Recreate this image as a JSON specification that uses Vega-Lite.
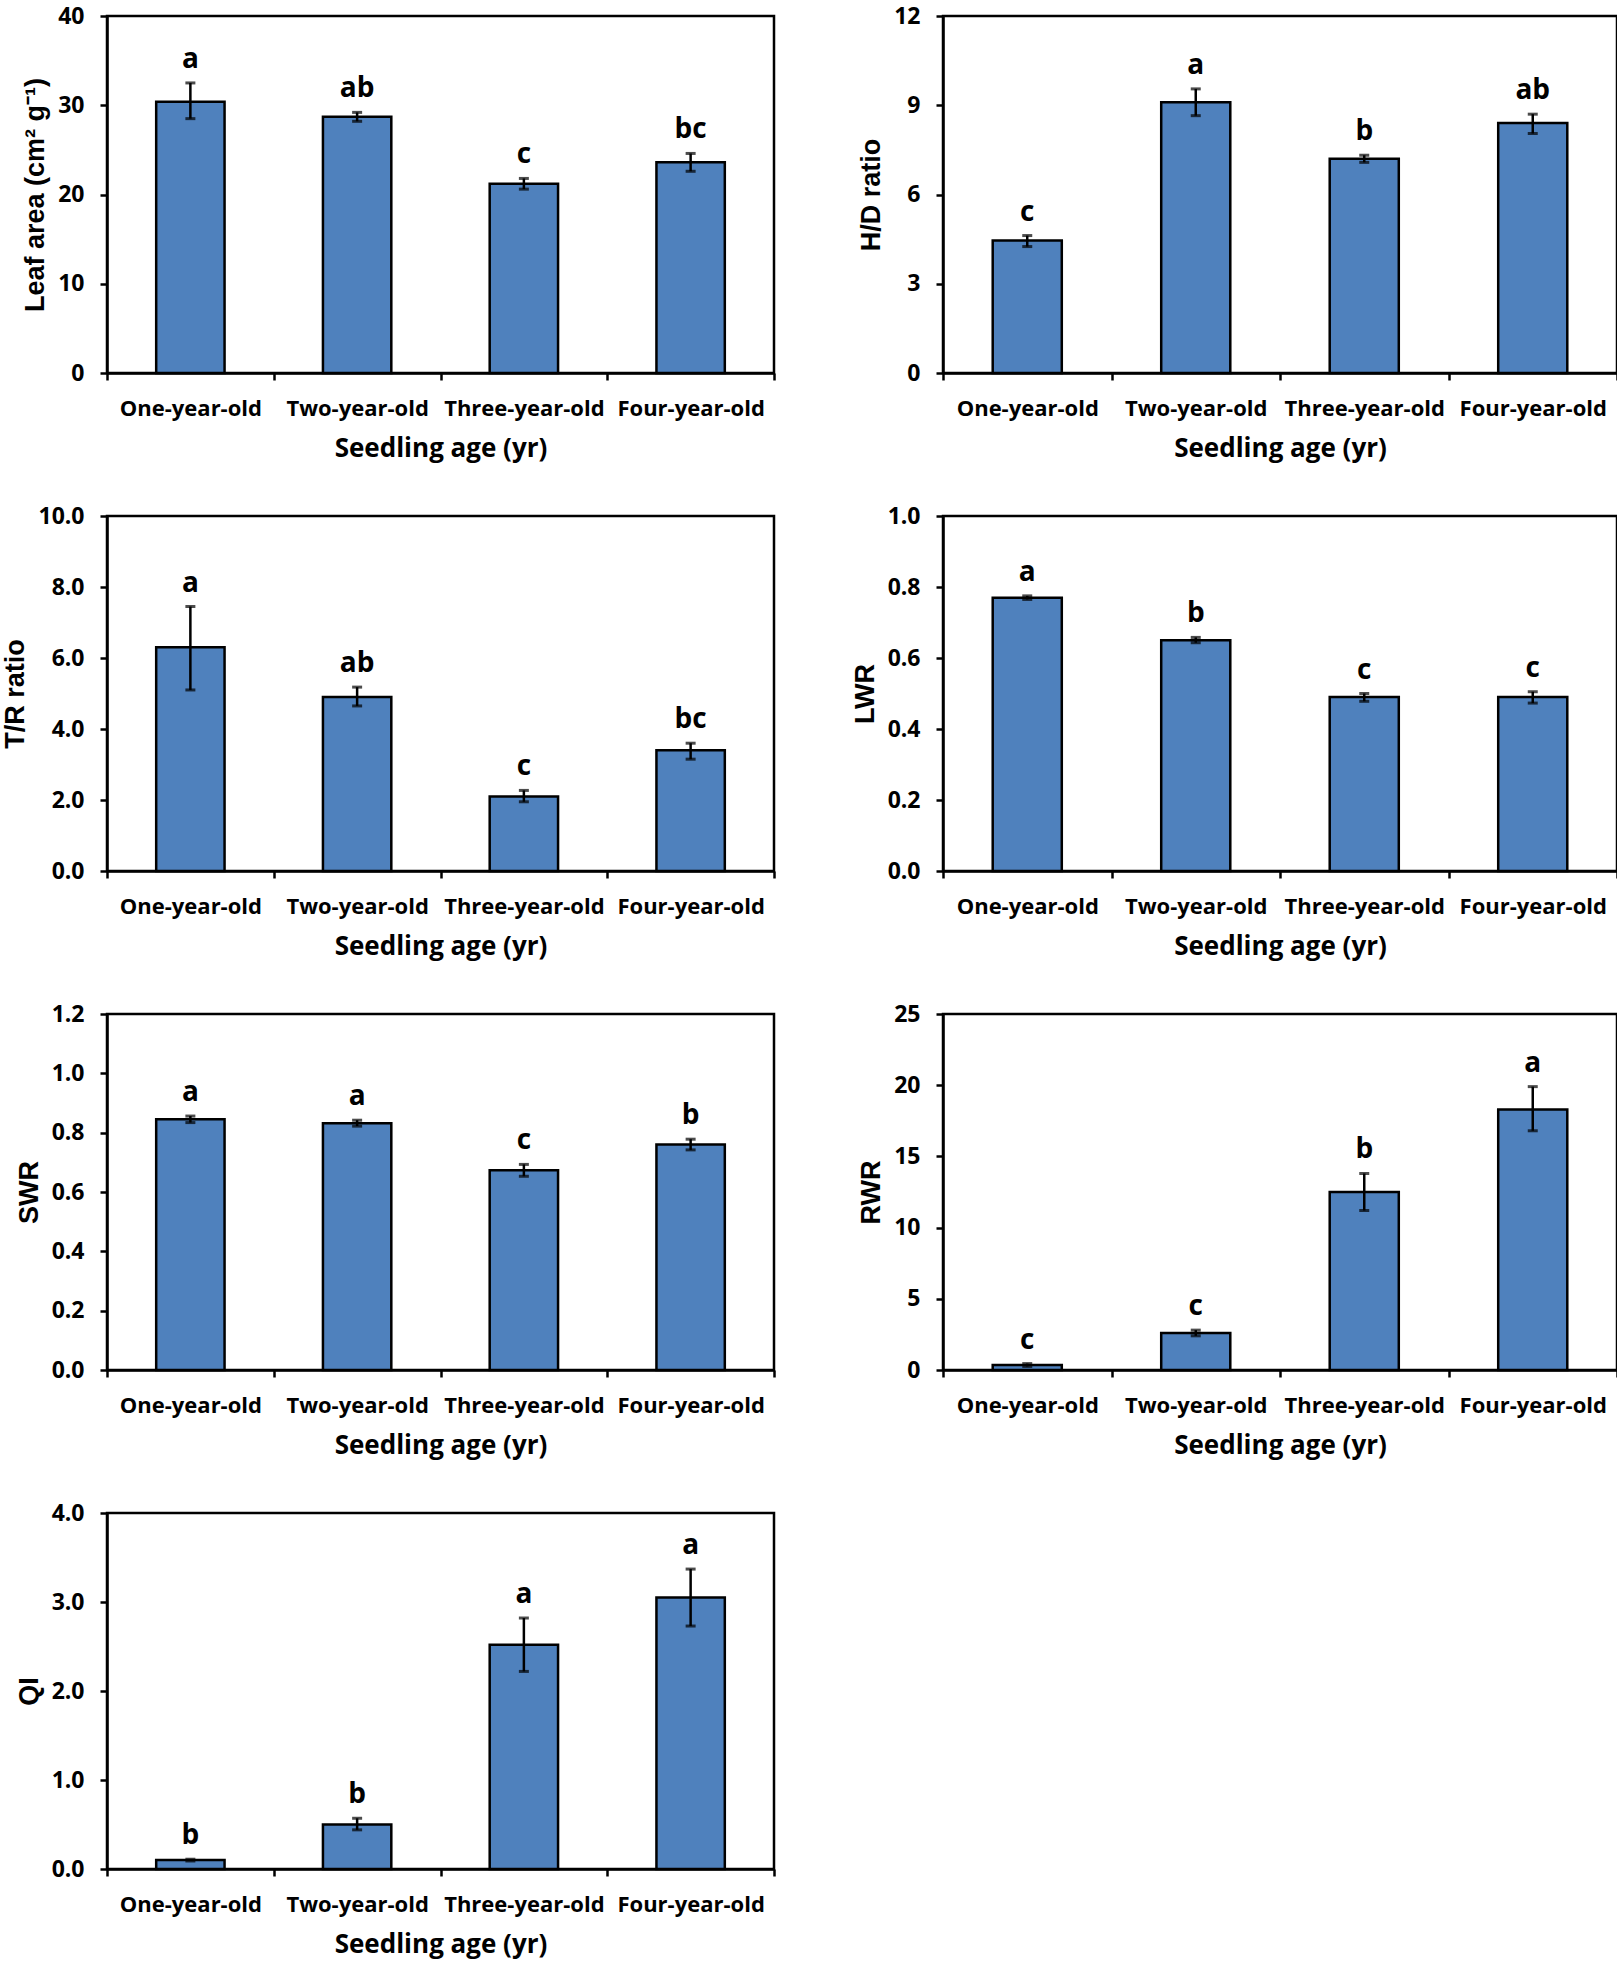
{
  "$schema": "https://vega.github.io/schema/vega-lite/v6.json",
  "padding": {"left": 0, "top": 3, "right": 2, "bottom": 0},
  "background": "white",
  "datasets": {
    "d": [
      {"panel": "LA", "age": "One-year-old", "mean": 30.4, "lo": 28.5, "hi": 32.5, "letter": "a"},
      {"panel": "LA", "age": "Two-year-old", "mean": 28.7, "lo": 28.2, "hi": 29.2, "letter": "ab"},
      {"panel": "LA", "age": "Three-year-old", "mean": 21.2, "lo": 20.6, "hi": 21.8, "letter": "c"},
      {"panel": "LA", "age": "Four-year-old", "mean": 23.6, "lo": 22.6, "hi": 24.6, "letter": "bc"},
      {"panel": "HD", "age": "One-year-old", "mean": 4.45, "lo": 4.25, "hi": 4.62, "letter": "c"},
      {"panel": "HD", "age": "Two-year-old", "mean": 9.1, "lo": 8.65, "hi": 9.55, "letter": "a"},
      {"panel": "HD", "age": "Three-year-old", "mean": 7.2, "lo": 7.08, "hi": 7.32, "letter": "b"},
      {"panel": "HD", "age": "Four-year-old", "mean": 8.4, "lo": 8.05, "hi": 8.7, "letter": "ab"},
      {"panel": "TR", "age": "One-year-old", "mean": 6.3, "lo": 5.1, "hi": 7.45, "letter": "a"},
      {"panel": "TR", "age": "Two-year-old", "mean": 4.9, "lo": 4.65, "hi": 5.18, "letter": "ab"},
      {"panel": "TR", "age": "Three-year-old", "mean": 2.1, "lo": 1.95, "hi": 2.27, "letter": "c"},
      {"panel": "TR", "age": "Four-year-old", "mean": 3.4, "lo": 3.15, "hi": 3.6, "letter": "bc"},
      {"panel": "LWR", "age": "One-year-old", "mean": 0.77, "lo": 0.765, "hi": 0.775, "letter": "a"},
      {"panel": "LWR", "age": "Two-year-old", "mean": 0.65, "lo": 0.643, "hi": 0.658, "letter": "b"},
      {"panel": "LWR", "age": "Three-year-old", "mean": 0.49, "lo": 0.478, "hi": 0.5, "letter": "c"},
      {"panel": "LWR", "age": "Four-year-old", "mean": 0.49, "lo": 0.473, "hi": 0.505, "letter": "c"},
      {"panel": "SWR", "age": "One-year-old", "mean": 0.845, "lo": 0.834, "hi": 0.856, "letter": "a"},
      {"panel": "SWR", "age": "Two-year-old", "mean": 0.832, "lo": 0.822, "hi": 0.842, "letter": "a"},
      {"panel": "SWR", "age": "Three-year-old", "mean": 0.673, "lo": 0.653, "hi": 0.693, "letter": "c"},
      {"panel": "SWR", "age": "Four-year-old", "mean": 0.76, "lo": 0.742, "hi": 0.778, "letter": "b"},
      {"panel": "RWR", "age": "One-year-old", "mean": 0.35, "lo": 0.25, "hi": 0.45, "letter": "c"},
      {"panel": "RWR", "age": "Two-year-old", "mean": 2.6, "lo": 2.4, "hi": 2.8, "letter": "c"},
      {"panel": "RWR", "age": "Three-year-old", "mean": 12.5, "lo": 11.2, "hi": 13.8, "letter": "b"},
      {"panel": "RWR", "age": "Four-year-old", "mean": 18.3, "lo": 16.8, "hi": 19.9, "letter": "a"},
      {"panel": "QI", "age": "One-year-old", "mean": 0.1, "lo": 0.09, "hi": 0.11, "letter": "b"},
      {"panel": "QI", "age": "Two-year-old", "mean": 0.5, "lo": 0.44, "hi": 0.57, "letter": "b"},
      {"panel": "QI", "age": "Three-year-old", "mean": 2.52, "lo": 2.22, "hi": 2.82, "letter": "a"},
      {"panel": "QI", "age": "Four-year-old", "mean": 3.05, "lo": 2.73, "hi": 3.37, "letter": "a"}
    ]
  },
  "data": {"name": "d"},
  "columns": 2,
  "spacing": {"column": 72, "row": 40},
  "concat": [
    {
      "width": 667, "height": 357,
      "transform": [{"filter": "datum.panel === 'LA'"}],
      "encoding": {"x": {"field": "age", "type": "nominal", "sort": ["One-year-old", "Two-year-old", "Three-year-old", "Four-year-old"], "scale": {"paddingInner": 0, "paddingOuter": 0}, "title": "Seedling age (yr)"}},
      "layer": [
        {"mark": {"type": "bar", "width": {"band": 0.41}, "fill": "#4F81BD", "stroke": "black", "strokeWidth": 2.5},
         "encoding": {"y": {"field": "mean", "type": "quantitative", "title": "Leaf area  (cm² g⁻¹)", "scale": {"domain": [0, 40], "nice": false}, "axis": {"values": [0, 10, 20, 30, 40], "format": "d"}}}},
        {"mark": {"type": "rule", "color": "black", "strokeWidth": 2.5}, "encoding": {"y": {"field": "lo", "type": "quantitative", "title": "Leaf area  (cm² g⁻¹)"}, "y2": {"field": "hi"}}},
        {"mark": {"type": "tick", "color": "black", "size": 10, "thickness": 3}, "encoding": {"y": {"field": "lo", "type": "quantitative", "title": "Leaf area  (cm² g⁻¹)"}}},
        {"mark": {"type": "tick", "color": "black", "size": 10, "thickness": 3}, "encoding": {"y": {"field": "hi", "type": "quantitative", "title": "Leaf area  (cm² g⁻¹)"}}},
        {"mark": {"type": "text", "font": "Open Sans", "fontWeight": "bold", "fontSize": 28, "baseline": "alphabetic", "dy": -15, "color": "black"}, "encoding": {"y": {"field": "hi", "type": "quantitative", "title": "Leaf area  (cm² g⁻¹)"}, "text": {"field": "letter"}}}
      ]
    },
    {
      "width": 674, "height": 357,
      "transform": [{"filter": "datum.panel === 'HD'"}],
      "encoding": {"x": {"field": "age", "type": "nominal", "sort": ["One-year-old", "Two-year-old", "Three-year-old", "Four-year-old"], "scale": {"paddingInner": 0, "paddingOuter": 0}, "title": "Seedling age (yr)"}},
      "layer": [
        {"mark": {"type": "bar", "width": {"band": 0.41}, "fill": "#4F81BD", "stroke": "black", "strokeWidth": 2.5},
         "encoding": {"y": {"field": "mean", "type": "quantitative", "title": "H/D ratio", "scale": {"domain": [0, 12], "nice": false}, "axis": {"values": [0, 3, 6, 9, 12], "format": "d"}}}},
        {"mark": {"type": "rule", "color": "black", "strokeWidth": 2.5}, "encoding": {"y": {"field": "lo", "type": "quantitative", "title": "H/D ratio"}, "y2": {"field": "hi"}}},
        {"mark": {"type": "tick", "color": "black", "size": 10, "thickness": 3}, "encoding": {"y": {"field": "lo", "type": "quantitative", "title": "H/D ratio"}}},
        {"mark": {"type": "tick", "color": "black", "size": 10, "thickness": 3}, "encoding": {"y": {"field": "hi", "type": "quantitative", "title": "H/D ratio"}}},
        {"mark": {"type": "text", "font": "Open Sans", "fontWeight": "bold", "fontSize": 28, "baseline": "alphabetic", "dy": -15, "color": "black"}, "encoding": {"y": {"field": "hi", "type": "quantitative", "title": "H/D ratio"}, "text": {"field": "letter"}}}
      ]
    },
    {
      "width": 667, "height": 355,
      "transform": [{"filter": "datum.panel === 'TR'"}],
      "encoding": {"x": {"field": "age", "type": "nominal", "sort": ["One-year-old", "Two-year-old", "Three-year-old", "Four-year-old"], "scale": {"paddingInner": 0, "paddingOuter": 0}, "title": "Seedling age (yr)"}},
      "layer": [
        {"mark": {"type": "bar", "width": {"band": 0.41}, "fill": "#4F81BD", "stroke": "black", "strokeWidth": 2.5},
         "encoding": {"y": {"field": "mean", "type": "quantitative", "title": "T/R ratio", "scale": {"domain": [0, 10], "nice": false}, "axis": {"values": [0, 2, 4, 6, 8, 10], "format": ".1f"}}}},
        {"mark": {"type": "rule", "color": "black", "strokeWidth": 2.5}, "encoding": {"y": {"field": "lo", "type": "quantitative", "title": "T/R ratio"}, "y2": {"field": "hi"}}},
        {"mark": {"type": "tick", "color": "black", "size": 10, "thickness": 3}, "encoding": {"y": {"field": "lo", "type": "quantitative", "title": "T/R ratio"}}},
        {"mark": {"type": "tick", "color": "black", "size": 10, "thickness": 3}, "encoding": {"y": {"field": "hi", "type": "quantitative", "title": "T/R ratio"}}},
        {"mark": {"type": "text", "font": "Open Sans", "fontWeight": "bold", "fontSize": 28, "baseline": "alphabetic", "dy": -15, "color": "black"}, "encoding": {"y": {"field": "hi", "type": "quantitative", "title": "T/R ratio"}, "text": {"field": "letter"}}}
      ]
    },
    {
      "width": 674, "height": 355,
      "transform": [{"filter": "datum.panel === 'LWR'"}],
      "encoding": {"x": {"field": "age", "type": "nominal", "sort": ["One-year-old", "Two-year-old", "Three-year-old", "Four-year-old"], "scale": {"paddingInner": 0, "paddingOuter": 0}, "title": "Seedling age (yr)"}},
      "layer": [
        {"mark": {"type": "bar", "width": {"band": 0.41}, "fill": "#4F81BD", "stroke": "black", "strokeWidth": 2.5},
         "encoding": {"y": {"field": "mean", "type": "quantitative", "title": "LWR", "scale": {"domain": [0, 1], "nice": false}, "axis": {"values": [0, 0.2, 0.4, 0.6, 0.8, 1.0], "format": ".1f"}}}},
        {"mark": {"type": "rule", "color": "black", "strokeWidth": 2.5}, "encoding": {"y": {"field": "lo", "type": "quantitative", "title": "LWR"}, "y2": {"field": "hi"}}},
        {"mark": {"type": "tick", "color": "black", "size": 10, "thickness": 3}, "encoding": {"y": {"field": "lo", "type": "quantitative", "title": "LWR"}}},
        {"mark": {"type": "tick", "color": "black", "size": 10, "thickness": 3}, "encoding": {"y": {"field": "hi", "type": "quantitative", "title": "LWR"}}},
        {"mark": {"type": "text", "font": "Open Sans", "fontWeight": "bold", "fontSize": 28, "baseline": "alphabetic", "dy": -15, "color": "black"}, "encoding": {"y": {"field": "hi", "type": "quantitative", "title": "LWR"}, "text": {"field": "letter"}}}
      ]
    },
    {
      "width": 667, "height": 356,
      "transform": [{"filter": "datum.panel === 'SWR'"}],
      "encoding": {"x": {"field": "age", "type": "nominal", "sort": ["One-year-old", "Two-year-old", "Three-year-old", "Four-year-old"], "scale": {"paddingInner": 0, "paddingOuter": 0}, "title": "Seedling age (yr)"}},
      "layer": [
        {"mark": {"type": "bar", "width": {"band": 0.41}, "fill": "#4F81BD", "stroke": "black", "strokeWidth": 2.5},
         "encoding": {"y": {"field": "mean", "type": "quantitative", "title": "SWR", "scale": {"domain": [0, 1.2], "nice": false}, "axis": {"values": [0, 0.2, 0.4, 0.6, 0.8, 1.0, 1.2], "format": ".1f"}}}},
        {"mark": {"type": "rule", "color": "black", "strokeWidth": 2.5}, "encoding": {"y": {"field": "lo", "type": "quantitative", "title": "SWR"}, "y2": {"field": "hi"}}},
        {"mark": {"type": "tick", "color": "black", "size": 10, "thickness": 3}, "encoding": {"y": {"field": "lo", "type": "quantitative", "title": "SWR"}}},
        {"mark": {"type": "tick", "color": "black", "size": 10, "thickness": 3}, "encoding": {"y": {"field": "hi", "type": "quantitative", "title": "SWR"}}},
        {"mark": {"type": "text", "font": "Open Sans", "fontWeight": "bold", "fontSize": 28, "baseline": "alphabetic", "dy": -15, "color": "black"}, "encoding": {"y": {"field": "hi", "type": "quantitative", "title": "SWR"}, "text": {"field": "letter"}}}
      ]
    },
    {
      "width": 674, "height": 356,
      "transform": [{"filter": "datum.panel === 'RWR'"}],
      "encoding": {"x": {"field": "age", "type": "nominal", "sort": ["One-year-old", "Two-year-old", "Three-year-old", "Four-year-old"], "scale": {"paddingInner": 0, "paddingOuter": 0}, "title": "Seedling age (yr)"}},
      "layer": [
        {"mark": {"type": "bar", "width": {"band": 0.41}, "fill": "#4F81BD", "stroke": "black", "strokeWidth": 2.5},
         "encoding": {"y": {"field": "mean", "type": "quantitative", "title": "RWR", "scale": {"domain": [0, 25], "nice": false}, "axis": {"values": [0, 5, 10, 15, 20, 25], "format": "d"}}}},
        {"mark": {"type": "rule", "color": "black", "strokeWidth": 2.5}, "encoding": {"y": {"field": "lo", "type": "quantitative", "title": "RWR"}, "y2": {"field": "hi"}}},
        {"mark": {"type": "tick", "color": "black", "size": 10, "thickness": 3}, "encoding": {"y": {"field": "lo", "type": "quantitative", "title": "RWR"}}},
        {"mark": {"type": "tick", "color": "black", "size": 10, "thickness": 3}, "encoding": {"y": {"field": "hi", "type": "quantitative", "title": "RWR"}}},
        {"mark": {"type": "text", "font": "Open Sans", "fontWeight": "bold", "fontSize": 28, "baseline": "alphabetic", "dy": -15, "color": "black"}, "encoding": {"y": {"field": "hi", "type": "quantitative", "title": "RWR"}, "text": {"field": "letter"}}}
      ]
    },
    {
      "width": 667, "height": 356,
      "transform": [{"filter": "datum.panel === 'QI'"}],
      "encoding": {"x": {"field": "age", "type": "nominal", "sort": ["One-year-old", "Two-year-old", "Three-year-old", "Four-year-old"], "scale": {"paddingInner": 0, "paddingOuter": 0}, "title": "Seedling age (yr)"}},
      "layer": [
        {"mark": {"type": "bar", "width": {"band": 0.41}, "fill": "#4F81BD", "stroke": "black", "strokeWidth": 2.5},
         "encoding": {"y": {"field": "mean", "type": "quantitative", "title": "QI", "scale": {"domain": [0, 4], "nice": false}, "axis": {"values": [0, 1, 2, 3, 4], "format": ".1f"}}}},
        {"mark": {"type": "rule", "color": "black", "strokeWidth": 2.5}, "encoding": {"y": {"field": "lo", "type": "quantitative", "title": "QI"}, "y2": {"field": "hi"}}},
        {"mark": {"type": "tick", "color": "black", "size": 10, "thickness": 3}, "encoding": {"y": {"field": "lo", "type": "quantitative", "title": "QI"}}},
        {"mark": {"type": "tick", "color": "black", "size": 10, "thickness": 3}, "encoding": {"y": {"field": "hi", "type": "quantitative", "title": "QI"}}},
        {"mark": {"type": "text", "font": "Open Sans", "fontWeight": "bold", "fontSize": 28, "baseline": "alphabetic", "dy": -15, "color": "black"}, "encoding": {"y": {"field": "hi", "type": "quantitative", "title": "QI"}, "text": {"field": "letter"}}}
      ]
    }
  ],
  "config": {
    "view": {"stroke": "black", "strokeWidth": 2.5},
    "axis": {"grid": false, "domainColor": "black", "domainWidth": 2.5, "tickColor": "black", "tickWidth": 2.5, "tickSize": 7, "labelColor": "black", "titleColor": "black", "labelFont": "Open Sans", "labelFontWeight": "bold"},
    "axisX": {"labelAngle": 0, "labelFontSize": 22, "labelPadding": 18, "labelOverlap": false, "titleFont": "Open Sans", "titleFontSize": 26, "titleFontWeight": "bold", "titlePadding": 16, "tickBand": "extent"},
    "axisY": {"labelFontSize": 23, "labelPadding": 16, "titleFont": "Liberation Sans", "titleFontSize": 27, "titleFontWeight": "bold", "titlePadding": 8}
  }
}
